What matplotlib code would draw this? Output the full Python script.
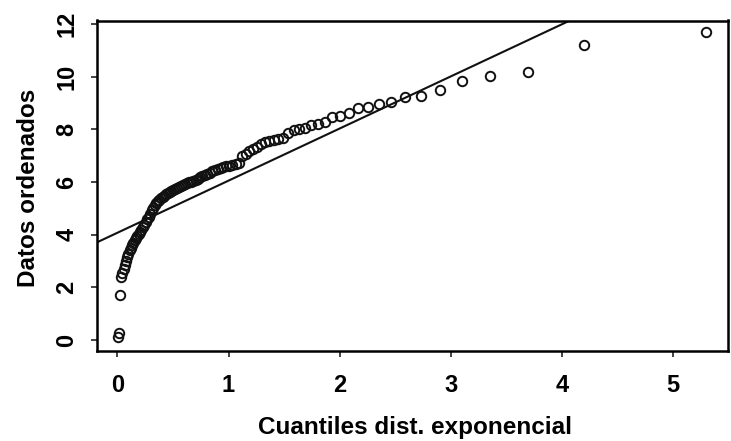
import numpy as np
import matplotlib
matplotlib.use("Agg")
import matplotlib.pyplot as plt

# Ordered data (Datos ordenados)
datos_ordenados = [
    0.12, 0.25, 1.71, 2.40, 2.55, 2.70, 2.85, 3.00, 3.15, 3.28,
    3.40, 3.50, 3.60, 3.70, 3.78, 3.86, 3.94, 4.02, 4.10, 4.18,
    4.28, 4.38, 4.48, 4.58, 4.68, 4.80, 4.92, 5.03, 5.11, 5.19,
    5.26, 5.32, 5.38, 5.43, 5.48, 5.53, 5.58, 5.62, 5.66, 5.70,
    5.74, 5.78, 5.81, 5.84, 5.88, 5.91, 5.95, 5.98, 6.01, 6.05,
    6.09, 6.13, 6.17, 6.21, 6.25, 6.30, 6.35, 6.40, 6.45, 6.50,
    6.54, 6.57, 6.60, 6.62, 6.64, 6.67, 6.72, 7.00, 7.08, 7.18,
    7.27, 7.34, 7.45, 7.52, 7.56, 7.59, 7.62, 7.68, 7.84, 7.97,
    8.02, 8.05, 8.17, 8.21, 8.27, 8.48, 8.52, 8.60, 8.82, 8.86,
    8.95, 9.05, 9.22, 9.28, 9.49, 9.85, 10.03, 10.19, 11.20, 11.71,
]

# Reference line (intercept, slope)
linea_intercepto = 4.07
linea_pendiente = 1.98

x_ticks = [0, 1, 2, 3, 4, 5]
y_ticks = [0, 2, 4, 6, 8, 10, 12]
x_label = "Cuantiles dist. exponencial"
y_label = "Datos ordenados"

# Theoretical exponential quantiles (Q-Q plot positions)
y = np.sort(np.array(datos_ordenados))
n = len(y)
p = (np.arange(1, n + 1) - 0.5) / n
x = -np.log(1 - p)

plt.rcParams['font.family'] = ['Liberation Sans', 'DejaVu Sans']

fig = plt.figure(figsize=(7.31, 4.41), dpi=100)
ax = fig.add_axes([97 / 731, 1 - 351 / 441, 631 / 731, 330.5 / 441])

ax.plot(x, y, linestyle='none', marker='o', markersize=6.8,
        markerfacecolor='none', markeredgecolor='#111111', markeredgewidth=1.4)

xl = (-0.183, 5.492)
yl = (-0.418, 12.13)
xx = np.array(xl)
ax.plot(xx, linea_intercepto + linea_pendiente * xx, color='#111111', lw=1.5)

ax.set_xlim(*xl)
ax.set_ylim(*yl)
ax.set_xticks(x_ticks)
ax.set_yticks(y_ticks)
ax.set_xticklabels([str(t) for t in x_ticks], fontsize=17, fontweight='bold')
ax.set_yticklabels([str(t) for t in y_ticks], fontsize=17, fontweight='bold')
for lbl in ax.get_yticklabels():
    lbl.set_rotation(90)
    lbl.set_va('center')
ax.tick_params(axis='x', length=4.3, width=1.1, pad=12.5, color='#111111')
ax.tick_params(axis='y', length=4.3, width=1.1, pad=9.0, color='#111111')
for s in ax.spines.values():
    s.set_linewidth(1.8)
    s.set_color('black')

fig.text(415 / 731, 1 - 434 / 441, x_label, ha='center', va='baseline',
         fontsize=17.5, fontweight='bold')
fig.text(29 / 731, 1 - 188 / 441, y_label, ha='center', va='center',
         rotation=90, fontsize=17.5, fontweight='bold')

fig.savefig("out.png", dpi=100)
